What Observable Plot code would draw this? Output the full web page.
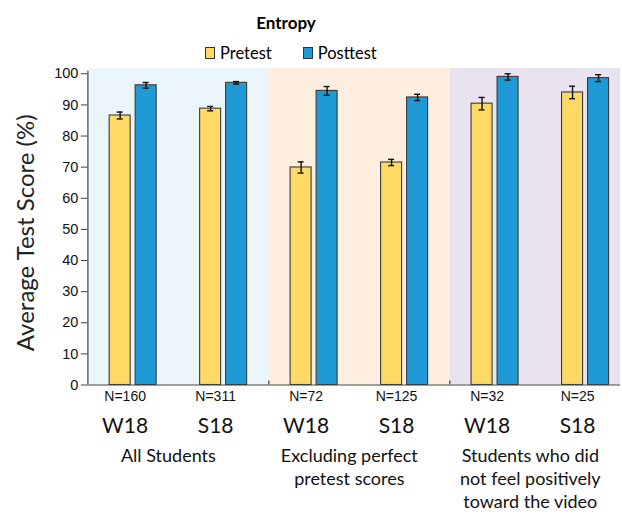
<!DOCTYPE html>
<html>
<head>
<meta charset="utf-8">
<script src="https://cdn.jsdelivr.net/npm/d3@7"></script>
<script src="https://cdn.jsdelivr.net/npm/@observablehq/plot@0.6"></script>
<style>
  html, body { margin: 0; padding: 0; background: #fff; }
  #chart { width: 620px; font-family: Lato, sans-serif; color: #000; }
  #head { position: relative; height: 64px; }
  #title { position: absolute; left: 0; top: 12px; width: 572px; text-align: center;
           font: bold 17px Lato, sans-serif; line-height: 22px; }
  #legend { position: absolute; left: 205px; top: 44px; display: flex; align-items: center;
            font: 16.5px Lato, sans-serif; line-height: 18px; }
  #legend .sw { width: 8px; height: 10px; border: 1px solid #333; margin-right: 5px; }
  #legend .item { display: flex; align-items: center; margin-right: 31px; }
  svg { overflow: hidden; display: block; }
</style>
</head>
<body>
<div id="chart">
  <div id="head">
    <div id="title">Entropy</div>
    <div id="legend"></div>
  </div>
</div>
<script>
// Average test scores on the entropy video, by term and student subset
const terms = ["W18", "S18", "W18", "S18", "W18", "S18"];
const sampleSizes = ["N=160", "N=311", "N=72", "N=125", "N=32", "N=25"];
const groupOfCohort = [0, 0, 1, 1, 2, 2];
const groupNames = [
  "All Students",
  "Excluding perfect\npretest scores",
  "Students who did\nnot feel positively\ntoward the video"
];
const pretest = [86.6, 88.8, 69.9, 71.5, 90.4, 94.0];
const pretestErr = [1.1, 0.7, 1.8, 1.0, 2.0, 2.0];
const posttest = [96.3, 97.1, 94.5, 92.4, 99.0, 98.6];
const posttestErr = [0.9, 0.4, 1.4, 1.0, 1.0, 1.1];
const seriesNames = ["Pretest", "Posttest"];
const seriesColors = ["#FFD966", "#1E9BD7"];
const panelColors = ["#EAF6F9", "#FDEEDF", "#E9E3EF"];
const yTicks = [0, 10, 20, 30, 40, 50, 60, 70, 80, 90, 100];

// legend
const legend = document.getElementById("legend");
seriesNames.forEach((name, k) => {
  const item = document.createElement("div");
  item.className = "item";
  const sw = document.createElement("div");
  sw.className = "sw";
  sw.style.background = seriesColors[k];
  const label = document.createElement("span");
  label.textContent = name;
  item.append(sw, label);
  legend.append(item);
});

// one row per bar
const bars = [];
terms.forEach((t, i) => {
  bars.push({i, series: "Pretest", value: pretest[i], err: pretestErr[i]});
  bars.push({i, series: "Posttest", value: posttest[i], err: posttestErr[i]});
});
const cohorts = terms.map((t, i) => ({i, term: t, n: sampleSizes[i]}));
const panels = groupNames.map((name, g) => {
  const members = cohorts.filter(c => groupOfCohort[c.i] === g).map(c => c.i);
  return {name, g, lo: d3.min(members) - 0.5, hi: d3.max(members) + 0.5};
});
const dividers = panels.slice(1).map(p => p.lo);

// bar geometry inside each cohort cell (pixels)
const cell = (630.3 - 87.4) / terms.length;
const barW = 21, gap = 5, capW = 6;
const off = (barW + gap) / 2;
const inset = s => s === "Pretest"
  ? {l: cell / 2 - off - barW / 2, r: cell / 2 + off - barW / 2}
  : {l: cell / 2 + off - barW / 2, r: cell / 2 - off - barW / 2};

const pre = bars.filter(d => d.series === "Pretest");
const post = bars.filter(d => d.series === "Posttest");

function barMarks(rows, s, color) {
  const ins = inset(s);
  const dxC = s === "Pretest" ? -off : off;
  const cap = {insetLeft: cell / 2 + dxC - capW / 2, insetRight: cell / 2 - dxC - capW / 2,
    stroke: "#111", strokeWidth: 1.4};
  return [
    Plot.rectY(rows, {
      x1: d => d.i - 0.5, x2: d => d.i + 0.5, y: "value",
      insetLeft: ins.l, insetRight: ins.r,
      fill: color, stroke: "#3a3a3a", strokeWidth: 1.1
    }),
    Plot.ruleX(rows, {x: "i", y1: d => d.value - d.err, y2: d => d.value + d.err,
      dx: dxC, stroke: "#111", strokeWidth: 1.4}),
    Plot.ruleY(rows, {x1: d => d.i - 0.5, x2: d => d.i + 0.5, y: d => d.value + d.err, ...cap}),
    Plot.ruleY(rows, {x1: d => d.i - 0.5, x2: d => d.i + 0.5, y: d => d.value - d.err, ...cap})
  ];
}

const plot = Plot.plot({
  width: 620,
  height: 450,
  marginTop: 4,
  marginBottom: 129.5,
  marginLeft: 87.4,
  marginRight: 620 - 630.3,
  style: {fontFamily: "Lato, sans-serif", background: "transparent"},
  x: {domain: [-0.5, terms.length - 0.5], axis: null},
  y: {domain: [0, 101.7], axis: null},
  marks: [
    Plot.rect(panels, {x1: "lo", x2: "hi", y1: 0, y2: 101.7,
      fill: d => panelColors[d.g]}),
    ...barMarks(pre, "Pretest", seriesColors[0]),
    ...barMarks(post, "Posttest", seriesColors[1]),
    // axes
    Plot.axisY({ticks: yTicks, tickSize: 6.5, tickPadding: 3, label: null,
      fontSize: 14.5, fontFamily: "Liberation Sans, Arial, sans-serif",
      stroke: "#444", fill: "#111"}),
    Plot.ruleX([-0.5], {y1: 0, y2: 100.8, stroke: "#444", strokeWidth: 1.2}),
    Plot.ruleY([0], {x1: -0.5, x2: terms.length - 0.5, stroke: "#444", strokeWidth: 1.2}),
    Plot.ruleX(dividers, {y1: 0, y2: 1.3, stroke: "#444", strokeWidth: 1.2}),
    Plot.text(["Average Test Score (%)"], {frameAnchor: "left", textAnchor: "middle",
      rotate: -90, dx: -62, dy: 6, fontSize: 24, fill: "#222"}),
    // category labels
    Plot.text(cohorts, {x: "i", y: 0, text: "n", dy: 12, dx: -8,
      fontSize: 14, fontFamily: "Liberation Sans, Arial, sans-serif", fill: "#111"}),
    Plot.text(cohorts, {x: "i", y: 0, text: "term", dy: 41, dx: -8,
      fontSize: 21, fill: "#111"}),
    Plot.text(panels, {x: d => (d.lo + d.hi) / 2, y: 0, text: "name", dy: 60, dx: -10,
      lineAnchor: "top", lineHeight: 1.3, fontSize: 18, fill: "#111"})
  ]
});
document.getElementById("chart").append(plot);
</script>
</body>
</html>
